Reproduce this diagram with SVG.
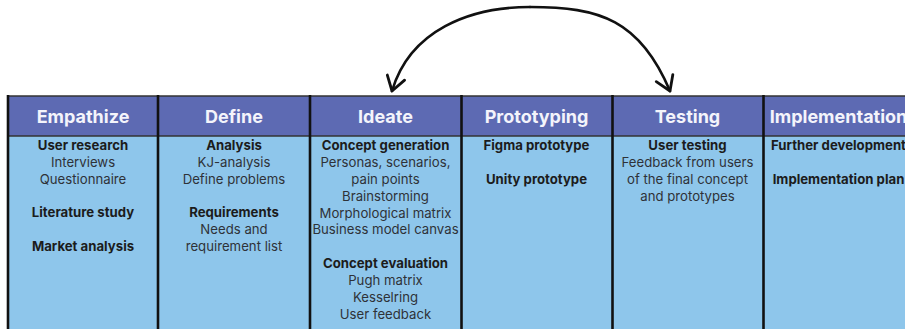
<svg xmlns="http://www.w3.org/2000/svg" width="905" height="329" viewBox="0 0 905 329">
  <style>
    .head { fill: #5d6ab3; }
    .body { fill: #8ec6eb; }
    .rule { stroke: #111; stroke-width: 2.6; }
    .edge { stroke: #333; stroke-width: 1.4; }
    .title { font-family: Inter, "Liberation Sans", sans-serif; font-size: 18px; font-weight: 700; fill: #f4f4fb; text-anchor: middle; }
    .h { font-family: Inter, "Liberation Sans", sans-serif; font-size: 13.2px; font-weight: 700; fill: #1c1c1c; text-anchor: middle; }
    .t { font-family: Inter, "Liberation Sans", sans-serif; font-size: 13.2px; font-weight: 400; fill: #2e3238; text-anchor: middle; }
    .arc { fill: none; stroke: #111; stroke-width: 2.6; stroke-linecap: round; }
  </style>
  <defs>
    <marker id="head" markerUnits="userSpaceOnUse" markerWidth="30" markerHeight="30" refX="0" refY="0" viewBox="-15 -15 30 30" orient="auto" overflow="visible">
      <path d="M-14,-9 L0,0 L-14,9" fill="none" stroke="#111" stroke-width="2.8" stroke-linecap="round" stroke-linejoin="round"/>
    </marker>
  </defs>

  <rect x="0" y="0" width="905" height="329" fill="#ffffff"/>

  <!-- phase columns -->
  <g id="empathize">
    <rect class="head" x="8" y="96" width="150" height="40"/>
    <rect class="body" x="8" y="136" width="150" height="193"/>
    <text class="title" x="83" y="122.5">Empathize</text>
    <text class="h" x="83" y="150">User research</text>
    <text class="t" x="83" y="167">Interviews</text>
    <text class="t" x="83" y="184">Questionnaire</text>
    <text class="h" x="83" y="217">Literature study</text>
    <text class="h" x="83" y="251">Market analysis</text>
  </g>

  <g id="define">
    <rect class="head" x="158" y="96" width="152" height="40"/>
    <rect class="body" x="158" y="136" width="152" height="193"/>
    <text class="title" x="234" y="122.5">Define</text>
    <text class="h" x="234" y="150">Analysis</text>
    <text class="t" x="234" y="167">KJ-analysis</text>
    <text class="t" x="234" y="184">Define problems</text>
    <text class="h" x="234" y="217">Requirements</text>
    <text class="t" x="234" y="234">Needs and</text>
    <text class="t" x="234" y="251">requirement list</text>
  </g>

  <g id="ideate">
    <rect class="head" x="310" y="96" width="151" height="40"/>
    <rect class="body" x="310" y="136" width="151" height="193"/>
    <text class="title" x="385.5" y="122.5">Ideate</text>
    <text class="h" x="385.5" y="150">Concept generation</text>
    <text class="t" x="385.5" y="167">Personas, scenarios,</text>
    <text class="t" x="385.5" y="184">pain points</text>
    <text class="t" x="385.5" y="201">Brainstorming</text>
    <text class="t" x="385.5" y="218">Morphological matrix</text>
    <text class="t" x="385.5" y="234">Business model canvas</text>
    <text class="h" x="385.5" y="268">Concept evaluation</text>
    <text class="t" x="385.5" y="285">Pugh matrix</text>
    <text class="t" x="385.5" y="302">Kesselring</text>
    <text class="t" x="385.5" y="319">User feedback</text>
  </g>

  <g id="prototyping">
    <rect class="head" x="461" y="96" width="151" height="40"/>
    <rect class="body" x="461" y="136" width="151" height="193"/>
    <text class="title" x="536.5" y="122.5">Prototyping</text>
    <text class="h" x="536.5" y="150">Figma prototype</text>
    <text class="h" x="536.5" y="184">Unity prototype</text>
  </g>

  <g id="testing">
    <rect class="head" x="612" y="96" width="151" height="40"/>
    <rect class="body" x="612" y="136" width="151" height="193"/>
    <text class="title" x="687.5" y="122.5">Testing</text>
    <text class="h" x="687.5" y="150">User testing</text>
    <text class="t" x="687.5" y="167">Feedback from users</text>
    <text class="t" x="687.5" y="184">of the final concept</text>
    <text class="t" x="687.5" y="201">and prototypes</text>
  </g>

  <g id="implementation">
    <rect class="head" x="763" y="96" width="151" height="40"/>
    <rect class="body" x="763" y="136" width="151" height="193"/>
    <text class="title" x="838.5" y="122.5">Implementation</text>
    <text class="h" x="838.5" y="150">Further development</text>
    <text class="h" x="838.5" y="184">Implementation plan</text>
  </g>

  <!-- grid lines -->
  <g id="grid">
    <line class="edge" x1="8" y1="96" x2="905" y2="96"/>
    <line class="edge" x1="8" y1="136" x2="905" y2="136"/>
    <line class="rule" x1="8" y1="95" x2="8" y2="329"/>
    <line class="rule" x1="158" y1="95" x2="158" y2="329"/>
    <line class="rule" x1="310" y1="95" x2="310" y2="329"/>
    <line class="rule" x1="461.5" y1="95" x2="461.5" y2="329"/>
    <line class="rule" x1="612.5" y1="95" x2="612.5" y2="329"/>
    <line class="rule" x1="763.5" y1="95" x2="763.5" y2="329"/>
  </g>

  <!-- iteration loop between Ideate and Testing -->
  <g id="connectors">
    <path class="arc" d="M530,7 C470,7 410,30 392,91" marker-end="url(#head)"/>
    <path class="arc" d="M530,7 C600,7 640,20 670,91" marker-end="url(#head)"/>
  </g>
</svg>
